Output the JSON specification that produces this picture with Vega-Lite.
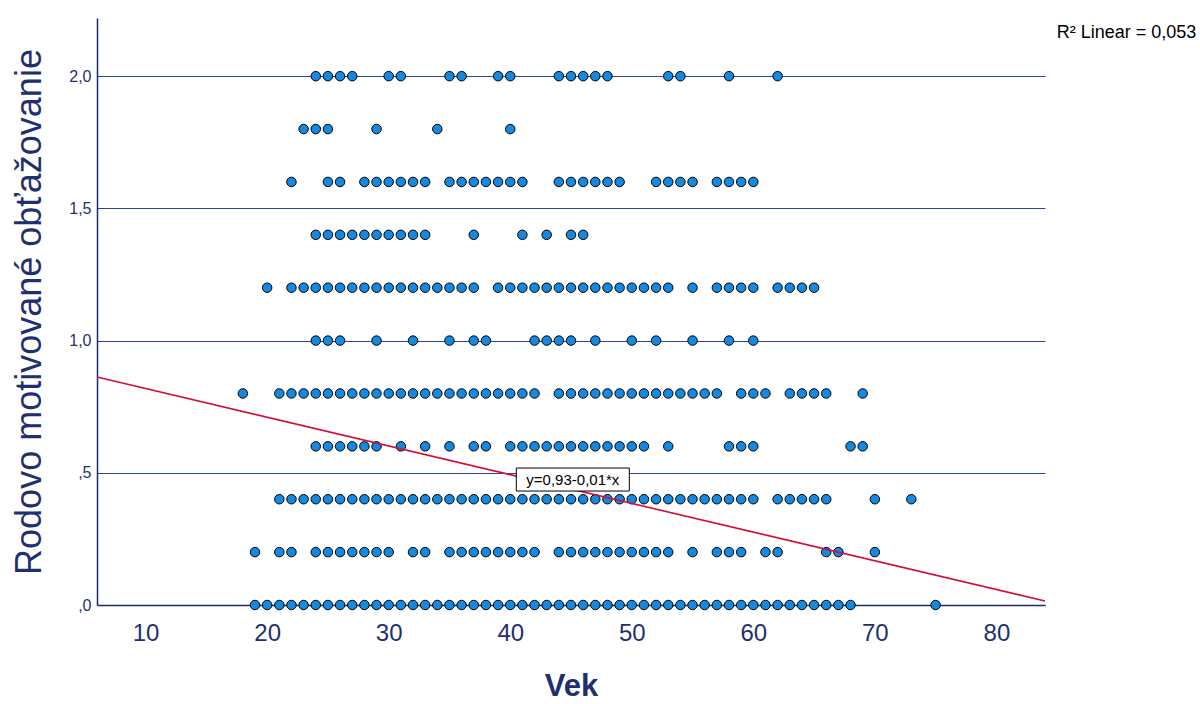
{
  "$schema": "https://vega.github.io/schema/vega-lite/v6.json",
  "width": 948,
  "height": 587,
  "autosize": {"type": "none"},
  "padding": {"left": 97, "top": 18, "right": 155, "bottom": 99},
  "background": "white",
  "config": {
    "view": {"stroke": null},
    "font": "Liberation Sans"
  },
  "datasets": {
    "pts": [
      {"age":24,"v":2.0},{"age":25,"v":2.0},{"age":26,"v":2.0},{"age":27,"v":2.0},{"age":30,"v":2.0},{"age":31,"v":2.0},{"age":35,"v":2.0},{"age":36,"v":2.0},{"age":39,"v":2.0},{"age":40,"v":2.0},{"age":44,"v":2.0},{"age":45,"v":2.0},{"age":46,"v":2.0},{"age":47,"v":2.0},{"age":48,"v":2.0},{"age":53,"v":2.0},{"age":54,"v":2.0},{"age":58,"v":2.0},{"age":62,"v":2.0},
      {"age":23,"v":1.8},{"age":24,"v":1.8},{"age":25,"v":1.8},{"age":29,"v":1.8},{"age":34,"v":1.8},{"age":40,"v":1.8},
      {"age":22,"v":1.6},{"age":25,"v":1.6},{"age":26,"v":1.6},{"age":28,"v":1.6},{"age":29,"v":1.6},{"age":30,"v":1.6},{"age":31,"v":1.6},{"age":32,"v":1.6},{"age":33,"v":1.6},{"age":35,"v":1.6},{"age":36,"v":1.6},{"age":37,"v":1.6},{"age":38,"v":1.6},{"age":39,"v":1.6},{"age":40,"v":1.6},{"age":41,"v":1.6},{"age":44,"v":1.6},{"age":45,"v":1.6},{"age":46,"v":1.6},{"age":47,"v":1.6},{"age":48,"v":1.6},{"age":49,"v":1.6},{"age":52,"v":1.6},{"age":53,"v":1.6},{"age":54,"v":1.6},{"age":55,"v":1.6},{"age":57,"v":1.6},{"age":58,"v":1.6},{"age":59,"v":1.6},{"age":60,"v":1.6},
      {"age":24,"v":1.4},{"age":25,"v":1.4},{"age":26,"v":1.4},{"age":27,"v":1.4},{"age":28,"v":1.4},{"age":29,"v":1.4},{"age":30,"v":1.4},{"age":31,"v":1.4},{"age":32,"v":1.4},{"age":33,"v":1.4},{"age":37,"v":1.4},{"age":41,"v":1.4},{"age":43,"v":1.4},{"age":45,"v":1.4},{"age":46,"v":1.4},
      {"age":20,"v":1.2},{"age":22,"v":1.2},{"age":23,"v":1.2},{"age":24,"v":1.2},{"age":25,"v":1.2},{"age":26,"v":1.2},{"age":27,"v":1.2},{"age":28,"v":1.2},{"age":29,"v":1.2},{"age":30,"v":1.2},{"age":31,"v":1.2},{"age":32,"v":1.2},{"age":33,"v":1.2},{"age":34,"v":1.2},{"age":35,"v":1.2},{"age":36,"v":1.2},{"age":37,"v":1.2},{"age":39,"v":1.2},{"age":40,"v":1.2},{"age":41,"v":1.2},{"age":42,"v":1.2},{"age":43,"v":1.2},{"age":44,"v":1.2},{"age":45,"v":1.2},{"age":46,"v":1.2},{"age":47,"v":1.2},{"age":48,"v":1.2},{"age":49,"v":1.2},{"age":50,"v":1.2},{"age":51,"v":1.2},{"age":52,"v":1.2},{"age":53,"v":1.2},{"age":55,"v":1.2},{"age":57,"v":1.2},{"age":58,"v":1.2},{"age":59,"v":1.2},{"age":60,"v":1.2},{"age":62,"v":1.2},{"age":63,"v":1.2},{"age":64,"v":1.2},{"age":65,"v":1.2},
      {"age":24,"v":1.0},{"age":25,"v":1.0},{"age":26,"v":1.0},{"age":29,"v":1.0},{"age":32,"v":1.0},{"age":35,"v":1.0},{"age":37,"v":1.0},{"age":38,"v":1.0},{"age":42,"v":1.0},{"age":43,"v":1.0},{"age":44,"v":1.0},{"age":45,"v":1.0},{"age":47,"v":1.0},{"age":50,"v":1.0},{"age":52,"v":1.0},{"age":55,"v":1.0},{"age":58,"v":1.0},{"age":60,"v":1.0},
      {"age":18,"v":0.8},{"age":21,"v":0.8},{"age":22,"v":0.8},{"age":23,"v":0.8},{"age":24,"v":0.8},{"age":25,"v":0.8},{"age":26,"v":0.8},{"age":27,"v":0.8},{"age":28,"v":0.8},{"age":29,"v":0.8},{"age":30,"v":0.8},{"age":31,"v":0.8},{"age":32,"v":0.8},{"age":33,"v":0.8},{"age":34,"v":0.8},{"age":35,"v":0.8},{"age":36,"v":0.8},{"age":37,"v":0.8},{"age":38,"v":0.8},{"age":39,"v":0.8},{"age":40,"v":0.8},{"age":41,"v":0.8},{"age":42,"v":0.8},{"age":44,"v":0.8},{"age":45,"v":0.8},{"age":46,"v":0.8},{"age":47,"v":0.8},{"age":48,"v":0.8},{"age":49,"v":0.8},{"age":50,"v":0.8},{"age":51,"v":0.8},{"age":52,"v":0.8},{"age":53,"v":0.8},{"age":54,"v":0.8},{"age":55,"v":0.8},{"age":56,"v":0.8},{"age":57,"v":0.8},{"age":59,"v":0.8},{"age":60,"v":0.8},{"age":61,"v":0.8},{"age":63,"v":0.8},{"age":64,"v":0.8},{"age":65,"v":0.8},{"age":66,"v":0.8},{"age":69,"v":0.8},
      {"age":24,"v":0.6},{"age":25,"v":0.6},{"age":26,"v":0.6},{"age":27,"v":0.6},{"age":28,"v":0.6},{"age":29,"v":0.6},{"age":31,"v":0.6},{"age":33,"v":0.6},{"age":35,"v":0.6},{"age":37,"v":0.6},{"age":38,"v":0.6},{"age":40,"v":0.6},{"age":41,"v":0.6},{"age":42,"v":0.6},{"age":43,"v":0.6},{"age":44,"v":0.6},{"age":45,"v":0.6},{"age":46,"v":0.6},{"age":47,"v":0.6},{"age":48,"v":0.6},{"age":49,"v":0.6},{"age":50,"v":0.6},{"age":51,"v":0.6},{"age":53,"v":0.6},{"age":58,"v":0.6},{"age":59,"v":0.6},{"age":60,"v":0.6},{"age":68,"v":0.6},{"age":69,"v":0.6},
      {"age":21,"v":0.4},{"age":22,"v":0.4},{"age":23,"v":0.4},{"age":24,"v":0.4},{"age":25,"v":0.4},{"age":26,"v":0.4},{"age":27,"v":0.4},{"age":28,"v":0.4},{"age":29,"v":0.4},{"age":30,"v":0.4},{"age":31,"v":0.4},{"age":32,"v":0.4},{"age":33,"v":0.4},{"age":34,"v":0.4},{"age":35,"v":0.4},{"age":36,"v":0.4},{"age":37,"v":0.4},{"age":38,"v":0.4},{"age":39,"v":0.4},{"age":40,"v":0.4},{"age":41,"v":0.4},{"age":42,"v":0.4},{"age":43,"v":0.4},{"age":44,"v":0.4},{"age":45,"v":0.4},{"age":46,"v":0.4},{"age":47,"v":0.4},{"age":48,"v":0.4},{"age":49,"v":0.4},{"age":50,"v":0.4},{"age":51,"v":0.4},{"age":52,"v":0.4},{"age":53,"v":0.4},{"age":54,"v":0.4},{"age":55,"v":0.4},{"age":56,"v":0.4},{"age":57,"v":0.4},{"age":58,"v":0.4},{"age":59,"v":0.4},{"age":60,"v":0.4},{"age":62,"v":0.4},{"age":63,"v":0.4},{"age":64,"v":0.4},{"age":65,"v":0.4},{"age":66,"v":0.4},{"age":70,"v":0.4},{"age":73,"v":0.4},
      {"age":19,"v":0.2},{"age":21,"v":0.2},{"age":22,"v":0.2},{"age":24,"v":0.2},{"age":25,"v":0.2},{"age":26,"v":0.2},{"age":27,"v":0.2},{"age":28,"v":0.2},{"age":29,"v":0.2},{"age":30,"v":0.2},{"age":32,"v":0.2},{"age":33,"v":0.2},{"age":35,"v":0.2},{"age":36,"v":0.2},{"age":37,"v":0.2},{"age":38,"v":0.2},{"age":39,"v":0.2},{"age":40,"v":0.2},{"age":41,"v":0.2},{"age":42,"v":0.2},{"age":44,"v":0.2},{"age":45,"v":0.2},{"age":46,"v":0.2},{"age":47,"v":0.2},{"age":48,"v":0.2},{"age":49,"v":0.2},{"age":50,"v":0.2},{"age":51,"v":0.2},{"age":52,"v":0.2},{"age":53,"v":0.2},{"age":55,"v":0.2},{"age":57,"v":0.2},{"age":58,"v":0.2},{"age":59,"v":0.2},{"age":61,"v":0.2},{"age":62,"v":0.2},{"age":66,"v":0.2},{"age":67,"v":0.2},{"age":70,"v":0.2},
      {"age":19,"v":0},{"age":20,"v":0},{"age":21,"v":0},{"age":22,"v":0},{"age":23,"v":0},{"age":24,"v":0},{"age":25,"v":0},{"age":26,"v":0},{"age":27,"v":0},{"age":28,"v":0},{"age":29,"v":0},{"age":30,"v":0},{"age":31,"v":0},{"age":32,"v":0},{"age":33,"v":0},{"age":34,"v":0},{"age":35,"v":0},{"age":36,"v":0},{"age":37,"v":0},{"age":38,"v":0},{"age":39,"v":0},{"age":40,"v":0},{"age":41,"v":0},{"age":42,"v":0},{"age":43,"v":0},{"age":44,"v":0},{"age":45,"v":0},{"age":46,"v":0},{"age":47,"v":0},{"age":48,"v":0},{"age":49,"v":0},{"age":50,"v":0},{"age":51,"v":0},{"age":52,"v":0},{"age":53,"v":0},{"age":54,"v":0},{"age":55,"v":0},{"age":56,"v":0},{"age":57,"v":0},{"age":58,"v":0},{"age":59,"v":0},{"age":60,"v":0},{"age":61,"v":0},{"age":62,"v":0},{"age":63,"v":0},{"age":64,"v":0},{"age":65,"v":0},{"age":66,"v":0},{"age":67,"v":0},{"age":68,"v":0},{"age":75,"v":0}
    ],
    "fit": [{"age": 6, "v": 0.862}, {"age": 84, "v": 0.015}],
    "box": [{"x1": 40.5, "x2": 49.8, "y1": 0.431, "y2": 0.518}],
    "eq": [{"age": 45.15, "v": 0.474, "t": "y=0,93-0,01*x"}],
    "r2": [{"age": 96.45, "v": 2.163, "t": "R² Linear = 0,053"}]
  },
  "layer": [
    {
      "data": {"name": "pts"},
      "mark": {"type": "point", "shape": "circle", "filled": true, "size": 90, "fill": "#1589E0", "stroke": "#000000", "strokeWidth": 1, "opacity": 1},
      "encoding": {
        "x": {
          "field": "age", "type": "quantitative",
          "scale": {"domain": [6, 84], "nice": false, "zero": false},
          "axis": {
            "title": "Vek", "values": [10, 20, 30, 40, 50, 60, 70, 80],
            "grid": false, "ticks": false, "domainColor": "#1F2A6E", "domainWidth": 1.5,
            "labelFontSize": 24, "labelColor": "#1F2F6F", "labelPadding": 16,
            "titleFontSize": 31, "titleFontWeight": "bold", "titleColor": "#1F2F6F", "titlePadding": 26
          }
        },
        "y": {
          "field": "v", "type": "quantitative",
          "scale": {"domain": [0, 2.22], "nice": false, "zero": false},
          "axis": {
            "title": "Rodovo motivované obťažovanie", "values": [0, 0.5, 1, 1.5, 2],
            "labelExpr": "replace(replace(format(datum.value, '.1f'), '0.', '.'), '.', ',')",
            "grid": true, "gridColor": "#2D45A0", "gridWidth": 1, "gridOpacity": 1,
            "ticks": false, "domainColor": "#1F2A6E", "domainWidth": 1.5,
            "labelFontSize": 16, "labelColor": "#1F2F6F", "labelPadding": 6,
            "titleFontSize": 36, "titleFontWeight": "normal", "titleColor": "#1F2F6F", "titlePadding": 20
          }
        }
      }
    },
    {
      "data": {"name": "fit"},
      "mark": {"type": "line", "color": "#D0103A", "strokeWidth": 1.6},
      "encoding": {
        "x": {"field": "age", "type": "quantitative"},
        "y": {"field": "v", "type": "quantitative"}
      }
    },
    {
      "data": {"name": "box"},
      "mark": {"type": "rect", "fill": "white", "stroke": "#000000", "strokeWidth": 1},
      "encoding": {
        "x": {"field": "x1", "type": "quantitative"},
        "x2": {"field": "x2"},
        "y": {"field": "y1", "type": "quantitative"},
        "y2": {"field": "y2"}
      }
    },
    {
      "data": {"name": "eq"},
      "mark": {"type": "text", "fontSize": 15, "color": "#000000", "align": "center", "baseline": "middle"},
      "encoding": {
        "x": {"field": "age", "type": "quantitative"},
        "y": {"field": "v", "type": "quantitative"},
        "text": {"field": "t"}
      }
    },
    {
      "data": {"name": "r2"},
      "mark": {"type": "text", "fontSize": 18, "color": "#000000", "align": "right", "baseline": "middle"},
      "encoding": {
        "x": {"field": "age", "type": "quantitative"},
        "y": {"field": "v", "type": "quantitative"},
        "text": {"field": "t"}
      }
    }
  ]
}
